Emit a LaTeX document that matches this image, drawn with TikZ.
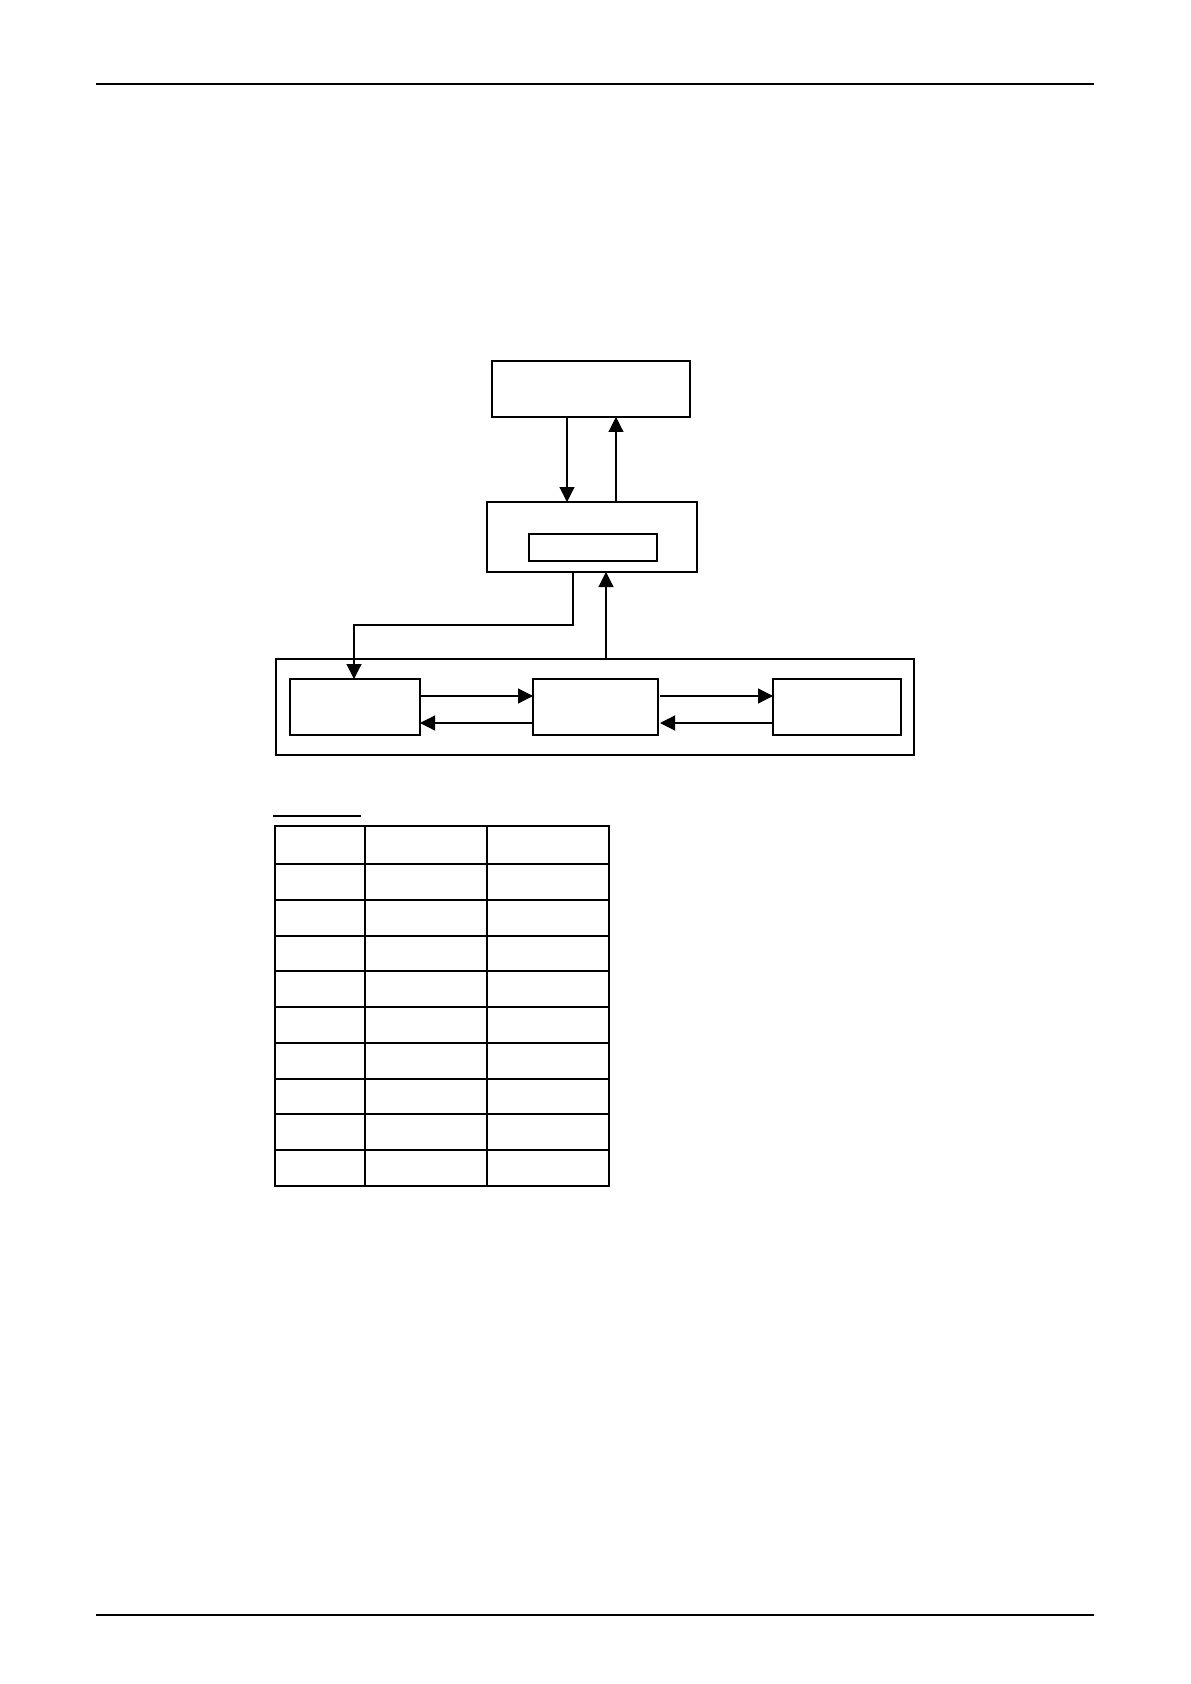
\documentclass[tikz,border=0pt]{standalone}
\usetikzlibrary{arrows.meta}
\begin{document}
\begin{tikzpicture}[x=0.5pt,y=-0.5pt,
  line width=0.6pt,
  box/.style={draw,rectangle,inner sep=0pt,outer sep=0pt},
  arr/.style={-{Triangle[length=7.5pt,width=7.5pt]}},
  rule/.style={line width=0.6pt}]
\useasboundingbox[fill=white] (0,0) rectangle (1190,1684);
% header / footer rules
\coordinate (hl) at (96,84); \coordinate (hr) at (1094,84);
\coordinate (fl) at (96,1615); \coordinate (fr) at (1094,1615);
\draw[rule] (hl) -- (hr);
\draw[rule] (fl) -- (fr);
% boxes
\node[box,minimum width=99pt,minimum height=28pt] (top) at (591,389) {};
\node[box,minimum width=105pt,minimum height=35pt] (mid) at (592,537) {};
\node[box,minimum width=64pt,minimum height=13.5pt] (inner) at (593,547.5) {};
\node[box,minimum width=319pt,minimum height=48pt] (outer) at (595,707) {};
\node[box,minimum width=65pt,minimum height=28pt] (a) at (355,707) {};
\node[box,minimum width=62.5pt,minimum height=28pt] (b) at (595.5,707) {};
\node[box,minimum width=64pt,minimum height=28pt] (c) at (837,707) {};
% vertical connectors
\draw[arr] (top.south -| 567,0) -- (mid.north -| 567,0);
\draw[arr] (mid.north -| 616,0) -- (top.south -| 616,0);
\coordinate (e1) at (573,625);
\coordinate (e2) at (354,625);
\draw[arr] (mid.south -| e1) -- (e1) -- (e2) -- (a.north -| e2);
\draw[arr] (outer.north -| 606,0) -- (mid.south -| 606,0);
% horizontal connectors
\draw[arr] (a.east |- 0,696) -- (b.west |- 0,696);
\draw[arr] (b.west |- 0,723) -- (a.east |- 0,723);
\draw[arr] ([xshift=1pt]b.east |- 0,696) -- (c.west |- 0,696);
\draw[arr] (c.west |- 0,723) -- ([xshift=1pt]b.east |- 0,723);
% table
\draw (273,816) -- (361,816);
\draw (275,826) rectangle (609,1186);
\draw (365,826) -- (365,1186);
\draw (487,826) -- (487,1186);
\foreach \yy in {864,900,936,971,1007,1043,1079,1114,1150}
  \draw (275,\yy) -- (609,\yy);
\end{tikzpicture}
\end{document}
